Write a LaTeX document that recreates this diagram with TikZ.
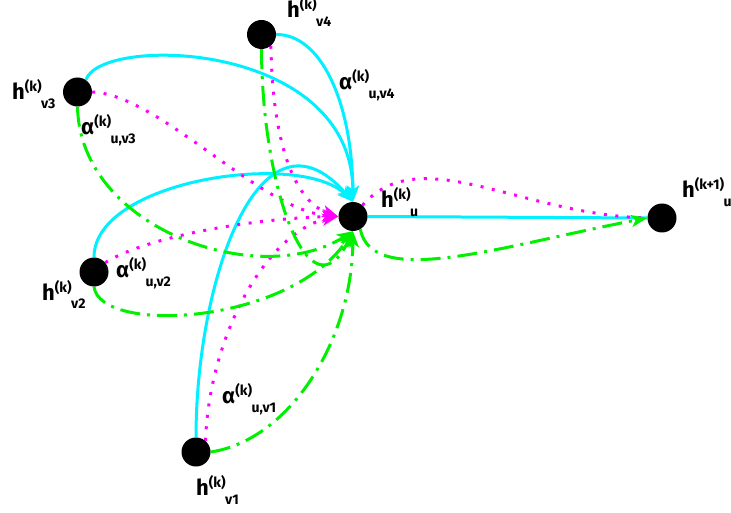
\documentclass[tikz,border=0pt]{standalone}
\usepackage{fontspec}
\setmainfont{Fira Sans}
\usetikzlibrary{arrows.meta,backgrounds}

\definecolor{edgecyan}{RGB}{0,240,255}
\definecolor{edgegreen}{RGB}{0,240,0}
\definecolor{edgemag}{RGB}{255,0,255}

% label: base symbol, superscript, subscript set one after another
\newcommand{\glab}[3]{{\fontsize{22pt}{22pt}\selectfont #1}\raisebox{8pt}{\fontsize{14pt}{14pt}\selectfont #2}\kern-0.5pt\raisebox{-9pt}{\fontsize{14pt}{14pt}\selectfont #3}}

\tikzset{
  vert/.style={circle, fill=black, inner sep=0pt, minimum size=29pt},
  headed/.style={-{Stealth[length=16pt,width=12pt,inset=4pt]}},
  cyanline/.style={draw=edgecyan, line width=3pt},
  magline/.style={draw=edgemag, line width=3pt, line cap=butt, dash pattern=on 3pt off 8.5pt},
  greenline/.style={draw=edgegreen, line width=3pt, dash pattern=on 20pt off 7pt on 3pt off 7pt},
  cyanedge/.style={cyanline, headed},
  magedge/.style={magline, headed},
  greenedge/.style={greenline, headed},
  lab/.style={anchor=base west, inner sep=0pt, font=\bfseries}
}

\begin{document}
\begin{tikzpicture}[x=1pt,y=-1pt]
\useasboundingbox (0,0) rectangle (731,513);

% vertices
\node[vert] (u)   at (353,216.5) {};
\node[vert] (out) at (662,218) {};
\node[vert] (v4)  at (261.5,34.5) {};
\node[vert] (v3)  at (77.5,92) {};
\node[vert] (v2)  at (94,272) {};
\node[vert] (v1)  at (196,452) {};

% labels
\node[lab] (lv4)  at (287,18)  {\glab{h}{(k)}{v4}};
\node[lab] (av4)  at (339,90)  {\glab{α}{(k)}{u,v4}};
\node[lab] (lv3)  at (12,100)  {\glab{h}{(k)}{v3}};
\node[lab] (av3)  at (81,135)  {\glab{α}{(k)}{u,v3}};
\node[lab] (lu)   at (381,208) {\glab{h}{(k)}{u}};
\node[lab] (lout) at (682,198) {\glab{h}{(k+1)}{u}};
\node[lab] (lv2)  at (42,300)  {\glab{h}{(k)}{v2}};
\node[lab] (av2)  at (116,277) {\glab{α}{(k)}{u,v2}};
\node[lab] (av1)  at (222,403) {\glab{α}{(k)}{u,v1}};
\node[lab] (lv1)  at (196,495) {\glab{h}{(k)}{v1}};

\begin{pgfonlayer}{background}
% solid cyan edges
\draw[cyanedge] (v3.55) .. controls (100,35) and (352,40) .. (u.north);
\draw[cyanedge] (v4.east) .. controls (320,34) and (352,100) .. (u.north);
\draw[cyanedge] (v2.north) .. controls (94,180) and (300,150) .. (u.north);
\draw[cyanedge] (v1.north) .. controls (196,280) and (260,95) .. (u.north);
\draw[cyanline] (u.east) -- (out.west);

% dotted magenta edges
\draw[magedge] (v3.east) .. controls (160,95) and (260,210) .. (u.west);
\draw[magedge] (v4.-50) .. controls (272,130) and (290,200) .. (u.west);
\draw[magedge] (v2.40) .. controls (150,235) and (260,218) .. (u.west);
\draw[magedge] (v1.50) .. controls (210,330) and (270,230) .. (u.west);
\draw[magline] (u.50) .. controls (420,140) and (520,215) .. (out.west);

% dash-dotted green edges
\draw[greenedge] (v3.south) .. controls (80,230) and (260,290) .. (u.south);
\draw[greenedge] (v4.south) .. controls (262,190) and (310,320) .. (u.south);
\draw[greenedge] (v2.south) .. controls (100,335) and (290,325) .. (u.south);
\draw[greenedge] (v1.east) .. controls (290,440) and (352,340) .. (u.south);
\draw[greenedge] (u.-60) .. controls (372,290) and (505,245) .. (out.west);
\end{pgfonlayer}
\end{tikzpicture}
\end{document}
